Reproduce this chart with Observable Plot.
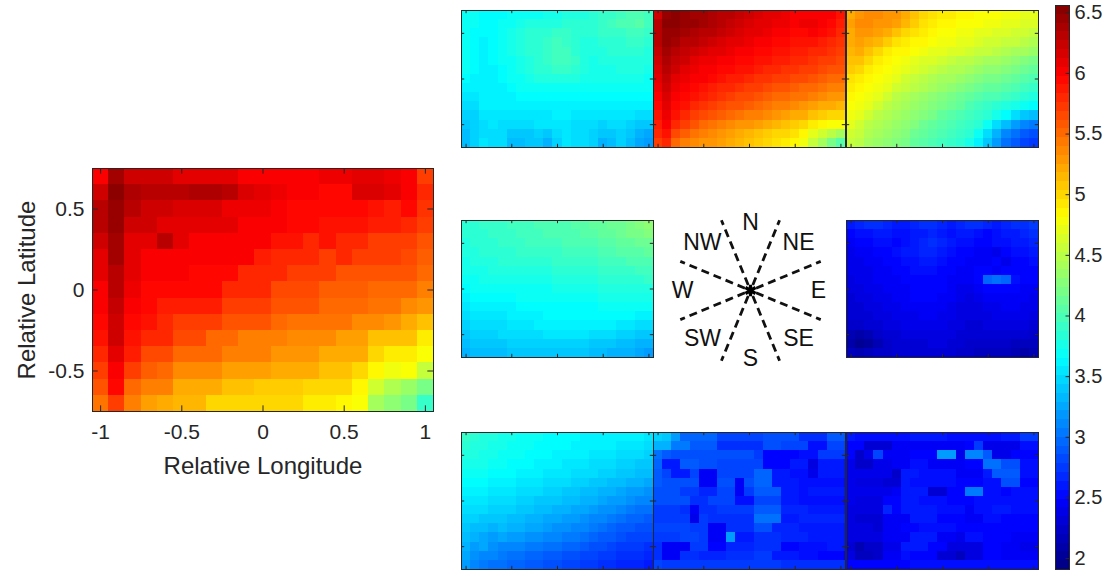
<!DOCTYPE html>
<html><head><meta charset="utf-8">
<script src="https://cdn.jsdelivr.net/npm/d3@7"></script>
<script src="https://cdn.jsdelivr.net/npm/@observablehq/plot@0.6"></script>
<style>
body{margin:0;background:#fff;}
#root{position:relative;width:1116px;height:573px;overflow:hidden;font-family:"Liberation Sans",Arial,sans-serif;}
#root > div{position:absolute;line-height:0;}
</style></head><body><div id="root"></div>
<script>
// ---------- axes categories ----------
const lonValues = [-1,-0.9,-0.8,-0.7,-0.6,-0.5,-0.4,-0.3,-0.2,-0.1,0,0.1,0.2,0.3,0.4,0.5,0.6,0.7,0.8,0.9,1];
const latValues = [0.7,0.6,0.5,0.4,0.3,0.2,0.1,0,-0.1,-0.2,-0.3,-0.4,-0.5,-0.6,-0.7];
const lonTicks = [-1,-0.5,0,0.5,1];
const latTicks = [-0.5,0,0.5];
const colorbarTicks = [2,2.5,3,3.5,4,4.5,5,5.5,6,6.5];
const colorLimits = [1.91, 6.56];
const jetColors = ["#000080","#0000ff","#0080ff","#00ffff","#80ff80","#ffff00","#ff8000","#ff0000","#800000"];
const compassLabels = ["N","NE","E","SE","S","SW","W","NW"];
const compassLabelAngles = [0,45,90,135,180,225,270,315];
const compassRayAngles = [22.5,67.5,112.5,157.5,202.5,247.5,292.5,337.5];

// ---------- grids (rows: lat 0.7 -> -0.7, cols: lon -1 -> 1) ----------
const allGrid = [
[6.0,6.4,6.2,6.2,6.2,6.1,6.1,6.1,6.1,6.0,6.0,6.0,6.0,6.0,6.05,6.05,6.1,6.1,6.05,6.0,5.7],
[6.2,6.5,6.35,6.3,6.3,6.3,6.35,6.35,6.3,6.15,6.1,6.05,6.0,6.0,5.95,5.95,6.15,6.15,6.1,6.0,5.8],
[6.3,6.45,6.3,6.2,6.2,6.15,6.15,6.15,6.05,6.05,6.05,6.0,5.95,5.95,5.95,5.95,5.95,5.9,5.85,5.95,5.75],
[6.3,6.45,6.2,6.2,6.1,6.1,6.1,6.1,6.1,6.0,6.0,6.0,5.95,5.95,5.9,5.9,5.9,5.85,5.85,5.8,5.7],
[6.2,6.4,6.1,6.1,6.3,6.1,6.0,6.0,6.0,6.0,6.0,5.9,5.9,5.8,5.9,5.8,5.8,5.7,5.7,5.7,5.6],
[6.1,6.4,6.1,6.0,6.0,6.0,6.0,6.0,6.0,6.0,5.85,5.8,5.8,5.8,5.7,5.8,5.7,5.7,5.7,5.65,5.55],
[6.1,6.3,6.1,6.0,6.0,6.0,5.95,5.95,5.95,5.8,5.8,5.8,5.7,5.7,5.7,5.6,5.6,5.6,5.6,5.6,5.5],
[6.0,6.3,6.05,5.95,5.95,5.95,5.95,5.95,5.8,5.8,5.8,5.65,5.65,5.65,5.55,5.55,5.55,5.5,5.5,5.5,5.4],
[6.0,6.25,6.0,5.95,5.85,5.85,5.85,5.85,5.7,5.7,5.7,5.6,5.6,5.6,5.5,5.5,5.5,5.45,5.45,5.35,5.3],
[5.95,6.2,5.95,5.9,5.8,5.7,5.7,5.7,5.6,5.6,5.6,5.5,5.45,5.45,5.45,5.45,5.35,5.35,5.3,5.2,5.1],
[5.9,6.2,5.9,5.8,5.8,5.65,5.65,5.5,5.5,5.4,5.4,5.4,5.35,5.35,5.35,5.25,5.25,5.1,5.1,5.1,4.9],
[5.8,6.1,5.85,5.65,5.65,5.5,5.5,5.5,5.4,5.4,5.4,5.3,5.3,5.3,5.2,5.2,5.2,5.0,4.9,4.9,4.8],
[5.7,6.0,5.7,5.55,5.5,5.35,5.35,5.35,5.25,5.25,5.25,5.2,5.2,5.2,5.1,5.1,5.0,4.85,4.75,4.8,4.55],
[5.6,5.95,5.5,5.4,5.4,5.2,5.2,5.2,5.1,5.1,5.05,5.05,5.05,5.0,5.0,5.0,4.85,4.6,4.45,4.35,4.2],
[5.45,5.7,5.4,5.25,5.2,5.15,5.15,5.0,5.0,5.0,5.0,5.0,5.0,4.9,4.9,4.85,4.8,4.4,4.3,4.2,3.9]
];
const nwGrid = [
[3.7,3.7,3.65,3.65,3.65,3.7,3.7,3.7,3.7,3.75,3.75,3.8,3.8,3.8,3.85,3.9,3.9,3.95,4.0,4.0,3.95],
[3.7,3.7,3.65,3.65,3.7,3.7,3.75,3.8,3.8,3.8,3.8,3.85,3.85,3.85,3.85,3.9,3.95,4.0,4.0,4.05,3.95],
[3.7,3.65,3.65,3.65,3.7,3.75,3.8,3.85,3.85,3.85,3.9,3.9,3.85,3.85,3.85,3.9,3.9,3.9,3.95,3.95,3.9],
[3.7,3.65,3.6,3.65,3.7,3.75,3.8,3.85,3.85,3.9,3.95,3.9,3.85,3.8,3.8,3.85,3.85,3.85,3.9,3.9,3.85],
[3.7,3.65,3.6,3.65,3.7,3.75,3.8,3.85,3.85,3.9,3.95,3.95,3.85,3.8,3.8,3.8,3.85,3.85,3.85,3.85,3.8],
[3.7,3.65,3.6,3.65,3.7,3.7,3.75,3.8,3.85,3.9,3.95,3.95,3.9,3.8,3.75,3.8,3.8,3.8,3.8,3.8,3.8],
[3.7,3.65,3.6,3.6,3.65,3.7,3.75,3.8,3.85,3.85,3.9,3.9,3.85,3.8,3.75,3.75,3.75,3.8,3.8,3.8,3.75],
[3.65,3.6,3.6,3.6,3.65,3.7,3.7,3.75,3.8,3.8,3.8,3.8,3.8,3.75,3.75,3.75,3.75,3.75,3.75,3.75,3.7],
[3.6,3.6,3.6,3.6,3.6,3.65,3.7,3.7,3.7,3.7,3.7,3.7,3.7,3.7,3.7,3.7,3.7,3.7,3.7,3.7,3.7],
[3.55,3.55,3.6,3.6,3.6,3.6,3.65,3.65,3.65,3.65,3.65,3.65,3.65,3.65,3.65,3.65,3.65,3.65,3.65,3.65,3.65],
[3.5,3.5,3.6,3.6,3.6,3.6,3.6,3.6,3.6,3.6,3.6,3.6,3.6,3.6,3.6,3.6,3.6,3.6,3.6,3.6,3.6],
[3.45,3.45,3.55,3.55,3.55,3.55,3.55,3.55,3.55,3.55,3.6,3.6,3.55,3.55,3.55,3.55,3.55,3.55,3.55,3.5,3.5],
[3.4,3.45,3.5,3.55,3.5,3.5,3.5,3.5,3.55,3.55,3.55,3.55,3.5,3.5,3.5,3.45,3.5,3.5,3.45,3.4,3.4],
[3.35,3.45,3.5,3.5,3.5,3.4,3.4,3.4,3.45,3.4,3.5,3.55,3.5,3.5,3.45,3.4,3.4,3.45,3.4,3.3,3.25],
[3.35,3.45,3.55,3.5,3.5,3.35,3.35,3.4,3.4,3.3,3.45,3.55,3.5,3.5,3.45,3.3,3.35,3.45,3.35,3.25,3.2]
];
const nGrid = [
[6.2,6.45,6.5,6.45,6.4,6.4,6.35,6.3,6.3,6.25,6.2,6.15,6.1,6.1,6.05,6.0,6.0,6.0,6.0,6.0,5.9],
[6.3,6.5,6.5,6.45,6.45,6.4,6.35,6.3,6.25,6.2,6.15,6.1,6.1,6.05,6.05,6.0,6.05,6.05,6.0,5.95,5.85],
[6.3,6.45,6.45,6.4,6.35,6.3,6.3,6.25,6.2,6.15,6.1,6.1,6.05,6.0,6.0,5.95,5.95,6.0,5.95,5.9,5.8],
[6.3,6.45,6.4,6.3,6.3,6.25,6.2,6.15,6.1,6.1,6.05,6.0,6.0,5.95,5.95,5.9,5.9,5.9,5.85,5.8,5.75],
[6.25,6.4,6.3,6.25,6.2,6.15,6.1,6.1,6.05,6.0,6.0,5.95,5.95,5.9,5.9,5.85,5.85,5.8,5.8,5.75,5.7],
[6.2,6.35,6.25,6.2,6.1,6.05,6.05,6.0,6.0,5.95,5.95,5.9,5.9,5.85,5.85,5.8,5.8,5.75,5.7,5.7,5.65],
[6.15,6.3,6.2,6.1,6.05,6.0,6.0,5.95,5.95,5.9,5.9,5.85,5.8,5.8,5.75,5.75,5.7,5.7,5.65,5.6,5.6],
[6.1,6.25,6.1,6.05,6.0,6.0,5.95,5.9,5.85,5.85,5.8,5.75,5.75,5.7,5.7,5.65,5.65,5.6,5.55,5.5,5.5],
[6.05,6.2,6.05,6.0,5.95,5.9,5.85,5.8,5.8,5.75,5.7,5.7,5.65,5.6,5.6,5.55,5.5,5.5,5.45,5.4,5.4],
[6.0,6.15,6.0,5.95,5.9,5.85,5.8,5.75,5.7,5.65,5.65,5.6,5.55,5.5,5.5,5.45,5.45,5.4,5.35,5.3,5.3],
[5.95,6.1,5.95,5.9,5.8,5.75,5.7,5.65,5.6,5.6,5.55,5.5,5.45,5.4,5.4,5.35,5.3,5.25,5.2,5.2,5.15],
[5.9,6.05,5.9,5.8,5.7,5.65,5.6,5.55,5.5,5.45,5.4,5.4,5.35,5.3,5.25,5.2,5.2,5.1,5.05,5.0,5.0],
[5.85,6.0,5.8,5.7,5.6,5.5,5.45,5.4,5.35,5.3,5.3,5.25,5.2,5.15,5.1,5.05,5.0,4.9,4.85,4.8,4.8],
[5.8,5.9,5.65,5.55,5.45,5.4,5.35,5.3,5.25,5.2,5.15,5.1,5.05,5.0,5.0,4.95,4.85,4.7,4.6,4.5,4.4],
[5.7,5.8,5.5,5.4,5.35,5.3,5.3,5.25,5.2,5.15,5.1,5.05,5.0,4.95,4.9,4.85,4.75,4.55,4.4,4.2,4.05]
];
const neGrid = [
[5.2,5.3,5.35,5.35,5.3,5.3,5.2,5.1,5.0,4.95,4.9,4.9,4.85,4.85,4.8,4.8,4.8,4.75,4.75,4.7,4.7],
[5.25,5.35,5.35,5.3,5.3,5.25,5.15,5.05,4.95,4.9,4.85,4.85,4.8,4.8,4.8,4.75,4.75,4.7,4.7,4.65,4.65],
[5.2,5.3,5.3,5.25,5.2,5.1,5.0,4.95,4.9,4.85,4.8,4.8,4.75,4.75,4.7,4.7,4.65,4.65,4.6,4.6,4.55],
[5.2,5.25,5.2,5.15,5.05,4.95,4.9,4.85,4.85,4.8,4.75,4.75,4.7,4.7,4.65,4.6,4.6,4.55,4.55,4.5,4.45],
[5.15,5.2,5.1,5.0,4.9,4.85,4.85,4.8,4.75,4.7,4.7,4.65,4.65,4.6,4.55,4.55,4.5,4.45,4.4,4.4,4.35],
[5.1,5.1,5.0,4.9,4.85,4.8,4.75,4.7,4.65,4.65,4.6,4.55,4.5,4.5,4.45,4.4,4.4,4.35,4.3,4.25,4.2],
[5.05,5.0,4.9,4.85,4.8,4.75,4.7,4.65,4.6,4.55,4.5,4.45,4.45,4.4,4.35,4.3,4.3,4.25,4.2,4.15,4.1],
[4.95,4.9,4.85,4.8,4.75,4.7,4.6,4.55,4.5,4.45,4.4,4.4,4.35,4.3,4.25,4.2,4.2,4.15,4.1,4.05,4.0],
[4.9,4.85,4.8,4.75,4.7,4.6,4.55,4.5,4.45,4.4,4.35,4.3,4.25,4.2,4.15,4.1,4.1,4.05,4.0,3.95,3.9],
[4.85,4.8,4.75,4.7,4.6,4.5,4.45,4.4,4.35,4.3,4.25,4.2,4.15,4.1,4.05,4.0,4.0,3.95,3.9,3.85,3.8],
[4.8,4.75,4.7,4.6,4.5,4.45,4.4,4.35,4.3,4.25,4.2,4.15,4.1,4.0,3.95,3.9,3.85,3.8,3.75,3.7,3.65],
[4.75,4.7,4.6,4.5,4.45,4.4,4.35,4.3,4.25,4.2,4.1,4.05,4.0,3.95,3.9,3.85,3.75,3.65,3.5,3.4,3.35],
[4.7,4.6,4.5,4.45,4.4,4.35,4.3,4.25,4.15,4.1,4.05,4.0,3.95,3.9,3.85,3.7,3.5,3.35,3.2,3.1,3.05],
[4.6,4.55,4.45,4.4,4.35,4.3,4.25,4.15,4.1,4.05,4.0,3.95,3.9,3.85,3.7,3.5,3.3,3.1,3.0,2.9,2.85],
[4.55,4.5,4.4,4.35,4.3,4.25,4.2,4.1,4.05,4.0,3.95,3.9,3.85,3.75,3.6,3.4,3.2,3.0,2.9,2.8,2.75]
];
const wGrid = [
[3.85,3.85,3.9,3.9,3.9,3.95,3.95,3.95,4.0,4.0,4.0,4.0,4.05,4.05,4.1,4.1,4.15,4.15,4.2,4.25,4.3],
[3.85,3.85,3.85,3.9,3.9,3.9,3.95,3.95,3.95,4.0,4.0,4.0,4.0,4.05,4.05,4.1,4.1,4.15,4.2,4.2,4.25],
[3.8,3.85,3.85,3.85,3.9,3.9,3.9,3.95,3.95,3.95,3.95,4.0,4.0,4.0,4.0,4.05,4.05,4.1,4.1,4.15,4.15],
[3.8,3.8,3.85,3.85,3.85,3.85,3.9,3.9,3.9,3.9,3.9,3.95,3.95,3.95,3.95,4.0,4.0,4.05,4.05,4.05,4.1],
[3.75,3.8,3.8,3.8,3.85,3.85,3.85,3.85,3.85,3.85,3.9,3.9,3.9,3.9,3.9,3.95,3.95,3.95,4.0,4.0,4.0],
[3.75,3.75,3.75,3.8,3.8,3.8,3.8,3.8,3.8,3.8,3.85,3.85,3.85,3.85,3.85,3.9,3.9,3.9,3.9,3.95,3.95],
[3.7,3.7,3.75,3.75,3.75,3.75,3.75,3.75,3.75,3.75,3.8,3.8,3.8,3.8,3.8,3.85,3.85,3.85,3.85,3.85,3.9],
[3.65,3.7,3.7,3.7,3.7,3.7,3.7,3.7,3.7,3.7,3.75,3.75,3.75,3.75,3.75,3.8,3.8,3.8,3.8,3.8,3.8],
[3.6,3.65,3.65,3.65,3.65,3.65,3.7,3.7,3.7,3.7,3.7,3.7,3.7,3.7,3.7,3.75,3.75,3.75,3.75,3.75,3.75],
[3.55,3.6,3.6,3.6,3.6,3.6,3.65,3.65,3.65,3.65,3.65,3.65,3.65,3.65,3.65,3.7,3.7,3.7,3.7,3.7,3.7],
[3.5,3.55,3.55,3.55,3.55,3.6,3.6,3.6,3.6,3.65,3.65,3.65,3.65,3.65,3.65,3.65,3.65,3.65,3.65,3.6,3.6],
[3.45,3.5,3.5,3.5,3.5,3.55,3.55,3.55,3.6,3.6,3.6,3.6,3.6,3.6,3.6,3.6,3.6,3.55,3.55,3.5,3.5],
[3.4,3.45,3.45,3.45,3.5,3.5,3.5,3.5,3.5,3.55,3.55,3.55,3.55,3.55,3.5,3.5,3.5,3.45,3.45,3.4,3.4],
[3.35,3.4,3.4,3.4,3.4,3.45,3.45,3.45,3.45,3.45,3.45,3.45,3.45,3.45,3.4,3.4,3.4,3.35,3.35,3.3,3.3],
[3.3,3.35,3.35,3.35,3.35,3.4,3.4,3.4,3.4,3.4,3.4,3.4,3.4,3.4,3.35,3.35,3.3,3.3,3.3,3.25,3.2]
];
const eGrid = [
[2.6,2.65,2.7,2.7,2.65,2.6,2.6,2.65,2.7,2.7,2.65,2.6,2.65,2.7,2.7,2.65,2.6,2.65,2.7,2.7,2.75],
[2.5,2.55,2.55,2.6,2.6,2.55,2.55,2.6,2.6,2.65,2.6,2.55,2.6,2.6,2.55,2.5,2.55,2.6,2.6,2.65,2.7],
[2.45,2.5,2.5,2.55,2.55,2.5,2.55,2.6,2.65,2.7,2.65,2.6,2.55,2.55,2.5,2.5,2.55,2.55,2.6,2.6,2.65],
[2.4,2.45,2.45,2.5,2.5,2.55,2.6,2.6,2.65,2.65,2.6,2.55,2.5,2.5,2.45,2.45,2.4,2.5,2.55,2.55,2.6],
[2.4,2.4,2.45,2.45,2.5,2.5,2.55,2.55,2.6,2.6,2.55,2.5,2.5,2.45,2.45,2.45,2.5,2.4,2.5,2.5,2.55],
[2.4,2.4,2.4,2.45,2.45,2.5,2.5,2.55,2.55,2.55,2.5,2.5,2.45,2.45,2.5,2.5,2.45,2.5,2.5,2.5,2.5],
[2.35,2.4,2.4,2.45,2.45,2.45,2.5,2.5,2.5,2.5,2.5,2.45,2.45,2.45,2.5,2.95,3.0,2.95,2.55,2.5,2.5],
[2.35,2.35,2.4,2.4,2.45,2.45,2.45,2.5,2.5,2.5,2.5,2.45,2.4,2.4,2.45,2.5,2.5,2.5,2.5,2.45,2.45],
[2.3,2.35,2.35,2.4,2.4,2.45,2.45,2.5,2.5,2.5,2.45,2.45,2.4,2.35,2.4,2.45,2.45,2.45,2.45,2.45,2.4],
[2.3,2.3,2.35,2.35,2.4,2.4,2.45,2.45,2.45,2.45,2.45,2.4,2.35,2.35,2.35,2.4,2.4,2.45,2.45,2.4,2.4],
[2.3,2.3,2.3,2.35,2.35,2.4,2.4,2.4,2.45,2.45,2.4,2.4,2.35,2.35,2.35,2.35,2.4,2.4,2.4,2.4,2.35],
[2.25,2.25,2.3,2.3,2.35,2.35,2.4,2.4,2.4,2.4,2.4,2.35,2.35,2.3,2.3,2.35,2.35,2.35,2.35,2.35,2.3],
[2.15,2.1,2.15,2.25,2.3,2.3,2.35,2.35,2.35,2.35,2.35,2.35,2.3,2.3,2.3,2.3,2.3,2.3,2.3,2.3,2.25],
[2.1,2.0,2.05,2.15,2.25,2.3,2.3,2.3,2.3,2.35,2.35,2.3,2.3,2.25,2.25,2.25,2.25,2.25,2.2,2.2,2.2],
[2.2,2.15,2.2,2.25,2.25,2.3,2.3,2.3,2.3,2.3,2.3,2.3,2.25,2.25,2.2,2.2,2.2,2.2,2.15,2.1,2.15]
];
const swGrid = [
[3.9,3.85,3.8,3.8,3.75,3.75,3.7,3.7,3.7,3.65,3.65,3.65,3.65,3.6,3.6,3.6,3.6,3.6,3.6,3.6,3.55],
[3.85,3.8,3.8,3.75,3.75,3.7,3.7,3.7,3.65,3.65,3.65,3.65,3.6,3.6,3.6,3.6,3.6,3.55,3.55,3.55,3.5],
[3.8,3.8,3.75,3.75,3.7,3.7,3.7,3.65,3.65,3.65,3.6,3.6,3.6,3.6,3.55,3.55,3.55,3.5,3.5,3.5,3.45],
[3.75,3.75,3.75,3.7,3.7,3.65,3.65,3.65,3.6,3.6,3.6,3.55,3.55,3.55,3.5,3.5,3.5,3.45,3.45,3.4,3.4],
[3.7,3.7,3.7,3.65,3.65,3.65,3.6,3.6,3.6,3.55,3.55,3.55,3.5,3.5,3.5,3.45,3.45,3.4,3.4,3.35,3.35],
[3.65,3.65,3.65,3.6,3.6,3.6,3.55,3.55,3.55,3.5,3.5,3.5,3.45,3.45,3.4,3.4,3.35,3.35,3.3,3.3,3.25],
[3.6,3.6,3.6,3.55,3.55,3.55,3.5,3.5,3.5,3.45,3.45,3.4,3.4,3.35,3.35,3.3,3.3,3.25,3.2,3.2,3.15],
[3.55,3.55,3.55,3.5,3.5,3.5,3.45,3.45,3.4,3.4,3.4,3.35,3.35,3.3,3.3,3.25,3.2,3.2,3.15,3.1,3.1],
[3.5,3.5,3.5,3.45,3.45,3.45,3.4,3.4,3.35,3.35,3.3,3.3,3.25,3.25,3.2,3.15,3.15,3.1,3.05,3.0,3.0],
[3.45,3.45,3.4,3.4,3.4,3.35,3.35,3.3,3.3,3.25,3.25,3.2,3.2,3.15,3.1,3.1,3.05,3.0,2.95,2.95,2.9],
[3.4,3.35,3.35,3.3,3.35,3.3,3.3,3.25,3.25,3.2,3.15,3.15,3.1,3.1,3.05,3.0,2.95,2.9,2.9,2.85,2.85],
[3.35,3.3,3.25,3.2,3.25,3.2,3.2,3.15,3.15,3.1,3.1,3.05,3.05,3.0,2.95,2.9,2.9,2.85,2.8,2.8,2.8],
[3.3,3.2,3.25,3.15,3.1,3.1,3.1,3.05,3.05,3.0,3.0,2.95,2.95,2.9,2.85,2.85,2.8,2.75,2.75,2.75,2.7],
[3.25,3.15,3.1,3.1,3.05,3.0,3.0,2.95,2.95,2.9,2.9,2.85,2.85,2.8,2.8,2.75,2.75,2.7,2.7,2.7,2.65],
[3.2,3.1,3.05,3.0,3.0,2.95,2.95,2.9,2.9,2.85,2.85,2.8,2.8,2.75,2.75,2.7,2.7,2.65,2.65,2.65,2.6]
];
const sGrid = [
[3.45,3.4,3.2,2.95,2.95,2.95,2.95,2.8,2.8,2.8,2.8,2.8,2.85,2.85,2.85,2.85,2.7,2.7,2.7,2.9,2.9],
[3.3,3.3,3.05,3.05,2.9,2.9,2.9,2.7,2.7,2.7,2.7,2.7,2.85,2.85,2.8,2.8,2.8,2.55,2.55,2.8,2.8],
[3.0,2.9,2.85,2.85,2.85,2.85,2.85,2.85,2.85,2.85,2.85,2.75,2.5,2.5,2.5,2.5,2.55,2.55,2.75,2.75,2.75],
[2.95,2.6,2.6,2.9,2.9,2.85,2.85,2.8,2.8,2.8,2.8,2.8,2.5,2.5,2.5,2.6,2.6,2.35,2.6,2.6,2.6],
[2.9,2.8,2.6,2.6,2.8,2.45,2.45,2.8,2.8,2.8,2.8,2.95,2.95,2.6,2.6,2.55,2.55,2.4,2.6,2.6,2.6],
[2.9,2.85,2.85,2.85,2.85,2.45,2.45,2.85,2.85,2.45,2.85,2.95,2.95,2.6,2.6,2.6,2.55,2.55,2.55,2.55,2.55],
[2.85,2.85,2.85,2.75,2.75,2.65,2.65,2.8,2.8,2.45,2.75,2.9,2.9,2.9,2.6,2.6,2.55,2.6,2.6,2.6,2.6],
[2.85,2.85,2.85,2.85,2.7,2.7,2.8,2.8,2.8,2.55,2.55,2.8,2.8,2.8,2.6,2.6,2.55,2.55,2.55,2.55,2.55],
[2.75,2.75,2.75,2.7,2.45,2.7,2.7,2.75,2.75,2.75,2.75,2.9,2.9,2.9,2.65,2.65,2.65,2.6,2.6,2.6,2.6],
[2.75,2.75,2.75,2.75,2.4,2.75,2.7,2.7,2.7,2.7,2.7,3.0,3.0,3.0,2.6,2.6,2.65,2.65,2.65,2.65,2.65],
[2.8,2.8,2.8,2.8,2.75,2.75,2.45,2.45,2.7,2.7,2.7,2.85,2.85,2.65,2.65,2.65,2.6,2.6,2.6,2.6,2.6],
[2.75,2.75,2.75,2.8,2.8,2.75,2.45,2.45,3.2,2.6,2.6,2.7,2.7,2.7,2.65,2.65,2.65,2.6,2.6,2.6,2.6],
[2.7,2.45,2.45,2.45,2.75,2.75,2.5,2.5,2.65,2.65,2.65,2.7,2.7,2.7,2.5,2.5,2.55,2.55,2.55,2.6,2.6],
[2.7,2.45,2.45,2.7,2.7,2.65,2.65,2.65,2.7,2.7,2.7,2.75,2.75,2.6,2.6,2.6,2.55,2.55,2.5,2.5,2.5],
[2.8,2.75,2.75,2.75,2.75,2.75,2.75,2.75,2.75,2.75,2.75,2.75,2.75,2.75,2.7,2.7,2.7,2.7,2.7,2.7,2.7]
];
const seGrid = [
[2.6,2.55,2.55,2.55,2.55,2.55,2.55,2.6,2.6,2.6,2.6,2.55,2.55,2.55,2.55,2.55,2.55,2.6,2.6,2.75,2.75],
[2.5,2.5,2.3,2.3,2.3,2.45,2.45,2.45,2.45,2.45,2.45,2.45,2.45,2.5,2.75,2.4,2.4,2.4,2.4,2.55,2.55],
[2.5,2.25,2.4,2.8,2.45,2.45,2.45,2.5,2.5,2.5,3.2,3.2,2.4,3.1,3.1,2.9,2.4,2.4,2.5,2.5,2.5],
[2.4,2.25,2.25,2.4,2.4,2.45,2.45,2.55,2.55,2.45,2.45,2.45,2.45,2.5,2.5,3.0,3.0,2.85,2.85,2.55,2.55],
[2.4,2.4,2.4,2.4,2.4,2.25,2.6,2.6,2.55,2.55,2.55,2.55,2.45,2.45,2.45,2.6,2.9,2.9,2.9,2.55,2.55],
[2.4,2.35,2.35,2.35,2.3,2.3,2.6,2.55,2.55,2.55,2.55,2.55,2.5,2.5,2.5,2.55,2.55,2.85,2.85,2.5,2.5],
[2.4,2.4,2.4,2.4,2.4,2.45,2.6,2.6,2.6,2.3,2.3,2.5,2.5,3.05,3.05,2.55,2.55,2.5,2.55,2.55,2.55],
[2.4,2.35,2.35,2.35,2.5,2.5,2.6,2.6,2.55,2.55,2.55,2.5,2.5,2.5,2.55,2.55,2.55,2.55,2.55,2.55,2.55],
[2.35,2.35,2.35,2.35,2.65,2.5,2.6,2.6,2.6,2.6,2.55,2.55,2.55,2.45,2.55,2.55,2.6,2.6,2.55,2.55,2.55],
[2.35,2.3,2.3,2.3,2.45,2.45,2.45,2.6,2.6,2.6,2.5,2.5,2.5,2.45,2.45,2.55,2.55,2.5,2.5,2.5,2.5],
[2.35,2.35,2.35,2.3,2.45,2.45,2.5,2.5,2.55,2.55,2.55,2.55,2.5,2.5,2.5,2.5,2.5,2.5,2.5,2.5,2.5],
[2.35,2.35,2.35,2.35,2.45,2.45,2.45,2.6,2.6,2.6,2.45,2.45,2.4,2.55,2.55,2.5,2.5,2.5,2.45,2.45,2.45],
[2.3,2.15,2.25,2.25,2.4,2.4,2.6,2.6,2.6,2.5,2.5,2.35,2.35,2.35,2.35,2.5,2.5,2.45,2.45,2.4,2.4],
[2.35,2.2,2.2,2.25,2.45,2.45,2.55,2.5,2.5,2.5,2.3,2.3,2.2,2.35,2.35,2.5,2.5,2.45,2.45,2.45,2.45],
[2.5,2.5,2.5,2.5,2.5,2.5,2.5,2.55,2.55,2.55,2.55,2.55,2.55,2.55,2.55,2.55,2.55,2.55,2.55,2.55,2.55]
];

// ---------- helpers ----------
const FONT = '"Liberation Sans", Arial, Helvetica, sans-serif';
const INK = "#262626";
const half = 0.05;
const xDom = [lonValues[0] - half, lonValues[lonValues.length - 1] + half];
const yDom = [latValues[latValues.length - 1] - half, latValues[0] + half];
const colorDomain = jetColors.map((c, k) => colorLimits[0] + k * (colorLimits[1] - colorLimits[0]) / (jetColors.length - 1));
const colorOpts = {type: "linear", domain: colorDomain, range: jetColors, interpolate: "rgb", clamp: true};

function flatten(grid) {
  return grid.flatMap((row, i) => row.map((v, j) => ({lon: lonValues[j], lat: latValues[i], v})));
}
function cellMark(grid) {
  return Plot.rect(flatten(grid), {
    x1: d => d.lon - half, x2: d => d.lon + half,
    y1: d => d.lat - half, y2: d => d.lat + half,
    fill: "v", shapeRendering: "crispEdges"
  });
}
function innerTicks() {
  const lx = 0.035, ly = 0.035;
  return [
    Plot.ruleX(lonTicks, {x: d => d, y1: yDom[0], y2: yDom[0] + ly, stroke: INK, strokeWidth: 1}),
    Plot.ruleX(lonTicks, {x: d => d, y1: yDom[1], y2: yDom[1] - ly, stroke: INK, strokeWidth: 1}),
    Plot.ruleY(latTicks, {y: d => d, x1: xDom[0], x2: xDom[0] + lx, stroke: INK, strokeWidth: 1}),
    Plot.ruleY(latTicks, {y: d => d, x1: xDom[1], x2: xDom[1] - lx, stroke: INK, strokeWidth: 1})
  ];
}
const root = document.getElementById("root");
function place(node, left, top) {
  const wrap = document.createElement("div");
  wrap.style.left = left + "px";
  wrap.style.top = top + "px";
  wrap.appendChild(node);
  root.appendChild(wrap);
}

// ---------- main panel ----------
place(Plot.plot({
  width: 450, height: 340,
  marginLeft: 92, marginRight: 17, marginTop: 18, marginBottom: 79,
  style: {fontFamily: FONT, fontSize: "21px", color: INK, background: "transparent", overflow: "visible"},
  x: {domain: xDom, ticks: lonTicks, tickSize: 0, tickPadding: 13, tickFormat: d => String(d), label: null},
  y: {domain: yDom, ticks: latTicks, tickSize: 0, tickPadding: 8, tickFormat: d => String(d), label: null},
  color: colorOpts,
  marks: [
    cellMark(allGrid),
    ...innerTicks(),
    Plot.frame({stroke: INK, strokeWidth: 1}),
    Plot.text(["Relative Longitude"], {text: d => d, frameAnchor: "bottom", textAnchor: "middle", lineAnchor: "middle", dy: 55, fontSize: 24, fill: INK}),
    Plot.text(["Relative Latitude"], {text: d => d, frameAnchor: "left", textAnchor: "middle", lineAnchor: "middle", rotate: -90, dx: -65, fontSize: 24, fill: INK})
  ]
}), 0, 150);

// ---------- small panels ----------
const panelLayout = [
  {grid: nwGrid, left: 461, top: 10},
  {grid: nGrid, left: 653, top: 10},
  {grid: neGrid, left: 846, top: 10},
  {grid: wGrid, left: 461, top: 220},
  {grid: eGrid, left: 846, top: 220},
  {grid: swGrid, left: 461, top: 432},
  {grid: sGrid, left: 653, top: 432},
  {grid: seGrid, left: 846, top: 432}
];
for (const p of panelLayout) {
  place(Plot.plot({
    width: 194, height: 139, margin: 1,
    style: {background: "transparent"},
    x: {domain: xDom, axis: null},
    y: {domain: yDom, axis: null},
    color: colorOpts,
    marks: [cellMark(p.grid), ...innerTicks(), Plot.frame({stroke: INK, strokeWidth: 1})]
  }), p.left - 1, p.top - 1);
}

// ---------- compass ----------
const rad = a => a * Math.PI / 180;
place(Plot.plot({
  width: 200, height: 172, margin: 0,
  style: {fontFamily: FONT, background: "transparent", overflow: "visible"},
  x: {domain: [-100, 100], axis: null},
  y: {domain: [-86, 86], axis: null},
  marks: [
    Plot.link(compassRayAngles, {
      x1: a => 6 * Math.sin(rad(a)), y1: a => 6 * Math.cos(rad(a)),
      x2: a => 76 * Math.sin(rad(a)), y2: a => 76 * Math.cos(rad(a)),
      stroke: "#111", strokeWidth: 2.8, strokeDasharray: "8,5"
    }),
    Plot.text(compassLabels, {
      x: (d, i) => 68 * Math.sin(rad(compassLabelAngles[i])),
      y: (d, i) => 68 * Math.cos(rad(compassLabelAngles[i])),
      text: d => d, fontSize: 23, fill: "#111"
    }),
    Plot.dot(["center"], {x: () => 0, y: () => 0, symbol: "asterisk", r: 5.5, stroke: "#000", strokeWidth: 3.4})
  ]
}), 650, 204);

// ---------- colorbar ----------
const nBands = 64;
const bandStep = (colorLimits[1] - colorLimits[0]) / nBands;
const bands = d3.range(nBands).map(k => ({lo: colorLimits[0] + k * bandStep, hi: colorLimits[0] + (k + 1) * bandStep}));
place(Plot.plot({
  width: 76, height: 573,
  marginLeft: 15, marginRight: 47, marginTop: 5, marginBottom: 4,
  style: {fontFamily: FONT, fontSize: "20px", color: INK, background: "transparent", overflow: "visible"},
  x: {domain: [0, 1], axis: null},
  y: {domain: colorLimits, axis: "right", ticks: colorbarTicks, tickSize: 0, tickPadding: 5, tickFormat: d => String(d), label: null},
  color: colorOpts,
  marks: [
    Plot.rect(bands, {x1: () => 0, x2: () => 1, y1: "lo", y2: "hi", fill: d => (d.lo + d.hi) / 2, shapeRendering: "crispEdges"}),
    Plot.ruleY(colorbarTicks, {y: d => d, x1: () => 0.75, x2: () => 1, stroke: INK}),
    Plot.frame({stroke: INK, strokeWidth: 1})
  ]
}), 1040, 0);
</script>
</body></html>
